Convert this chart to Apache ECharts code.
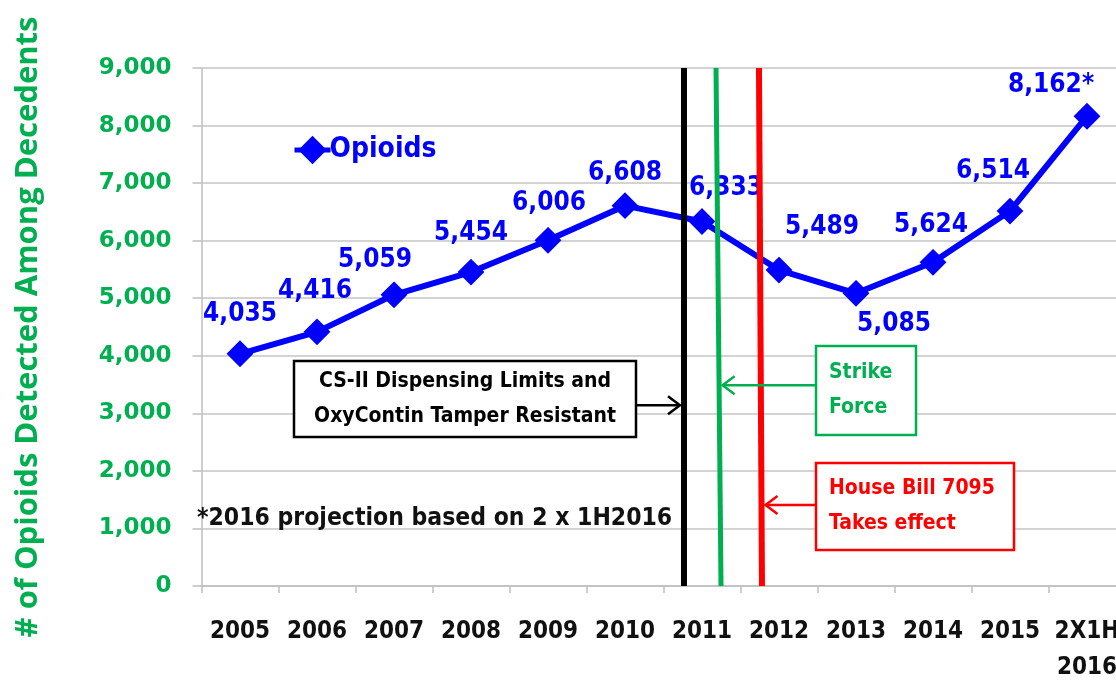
<!DOCTYPE html>
<html>
<head>
<meta charset="utf-8">
<script src="https://cdn.jsdelivr.net/npm/echarts@6/dist/echarts.min.js"></script>
<style>
  html, body { margin: 0; padding: 0; background: #ffffff; }
  #chart { width: 1116px; height: 681px; }
</style>
</head>
<body>
<div id="chart"></div>
<script>
// ---- data ----
const categories = ['2005','2006','2007','2008','2009','2010','2011','2012','2013','2014','2015','2X1H\n2016'];
const opioids = [4035, 4416, 5059, 5454, 6006, 6608, 6333, 5489, 5085, 5624, 6514, 8162];
const valueLabels = ['4,035','4,416','5,059','5,454','6,006','6,608','6,333','5,489','5,085','5,624','6,514','8,162*'];
const seriesName = 'Opioids';
// policy event lines (position in category units, top and bottom)
const eventNames = ['CS-II Dispensing Limits and\nOxyContin Tamper Resistant', 'Strike\nForce', 'House Bill 7095\nTakes effect'];
const eventTop = [5.766, 6.182, 6.740];
const eventBottom = [5.766, 6.247, 6.779];
const eventArrowValue = [3142, 3490, 1406];
const footnote = '*2016 projection based on 2 x 1H2016';
const yAxisTitle = '# of Opioids Detected Among Decedents';

// ---- presentation ----
const GREEN = '#00b050', BLUE = '#0000ff', RED = '#ff0000', BLACK = '#000000';
const eventColors = [BLACK, GREEN, RED];
const eventWidths = [6, 5, 6];
const labelOffsets = [[0,-40],[-2,-41],[-19,-35],[0,-39],[1,-37],[0,-32],[24,-33],[43,-43],[38,31],[-2,-37],[-17,-40],[-36,-31]];
const NARROW = "'DejaVu Sans Condensed', 'Liberation Sans Narrow', sans-serif";
const WIDE = "'DejaVu Sans', Verdana, sans-serif";

const chart = echarts.init(document.getElementById('chart'), null, { renderer: 'canvas' });

const lineSeries = eventNames.map((n, i) => ({
  type: 'line',
  xAxisIndex: 1,
  yAxisIndex: 0,
  z: 5,
  symbol: 'none',
  silent: true,
  lineStyle: { color: eventColors[i], width: eventWidths[i] },
  data: [[eventTop[i], 9000], [eventBottom[i], 0]]
}));

const option = {
  animation: false,
  backgroundColor: '#ffffff',
  grid: { left: 201.5, top: 68, width: 924, bottom: 95, containLabel: false, outerBoundsMode: 'none' },
  legend: {
    data: [seriesName],
    left: 287, top: 131,
    itemWidth: 36, itemHeight: 32,
    itemGap: 2,
    lineStyle: { width: 5 },
    textStyle: { color: BLUE, fontWeight: 'bold', fontSize: 28, fontFamily: NARROW, padding: [0,0,0,-6] }
  },
  xAxis: [{
    type: 'category',
    data: categories,
    boundaryGap: true,
    axisLine: { show: true, lineStyle: { color: '#bfbfbf', width: 1.5 } },
    axisTick: { show: true, interval: 0, alignWithLabel: false, length: 7, lineStyle: { color: '#bfbfbf', width: 1.5 } },
    axisLabel: { interval: 0, color: '#111', fontWeight: 'bold', fontSize: 24, fontFamily: NARROW, margin: 28, lineHeight: 36 },
    splitLine: { show: false }
  }, {
    type: 'value', min: -0.5, max: 11.5, show: false
  }],
  yAxis: [{
    type: 'value',
    min: 0, max: 9000, interval: 1000,
    name: yAxisTitle,
    nameLocation: 'middle',
    nameGap: 158,
    nameRotate: 90,
    nameTextStyle: { color: GREEN, fontWeight: 'bold', fontSize: 31, fontFamily: "'Open Sans', 'DejaVu Sans', sans-serif" },
    axisLine: { show: true, onZero: false, lineStyle: { color: '#bfbfbf', width: 1.5 } },
    axisTick: { show: true, length: 9, lineStyle: { color: '#bfbfbf', width: 1.5 } },
    axisLabel: {
      color: GREEN, fontWeight: 'bold', fontSize: 23, fontFamily: WIDE, margin: 30,
      formatter: v => v.toLocaleString('en-US')
    },
    splitLine: { show: true, lineStyle: { color: '#c4c4c4', width: 1.5 } }
  }],
  series: [{
    name: seriesName,
    type: 'line',
    z: 3,
    data: opioids.map((v, i) => ({
      value: v,
      label: { offset: labelOffsets[i], formatter: valueLabels[i] }
    })),
    symbol: 'diamond',
    symbolSize: 24,
    lineStyle: { color: BLUE, width: 6 },
    itemStyle: { color: BLUE, borderColor: BLUE, borderWidth: 2 },
    label: {
      show: true, position: 'inside',
      color: BLUE, fontWeight: 'bold', fontSize: 26, fontFamily: NARROW
    }
  }].concat(lineSeries)
};
chart.setOption(option);

// ---- annotations (boxes, arrows, footnote) ----
function px(cat, val) { return chart.convertToPixel({ xAxisIndex: 1, yAxisIndex: 0 }, [cat, val]); }
function xAt(i, val) { // x of slanted line at given value
  const t = val / 9000;
  return eventBottom[i] + (eventTop[i] - eventBottom[i]) * t;
}
const boxes = [
  { x: 294, y: 361, w: 342, h: 76, side: 'right' },
  { x: 816, y: 346, w: 100, h: 89, side: 'left' },
  { x: 816, y: 463, w: 198, h: 87, side: 'left' }
];
const graphics = [];
boxes.forEach((b, i) => {
  const c = eventColors[i];
  graphics.push({ type: 'rect', z: 10, shape: { x: b.x, y: b.y, width: b.w, height: b.h },
    style: { fill: '#ffffff', stroke: c, lineWidth: 2.5 } });
  graphics.push({ type: 'text', z: 11,
    x: i === 0 ? b.x + b.w / 2 : b.x + 13, y: b.y + b.h / 2,
    style: { text: eventNames[i], fill: c, font: "bold 21px " + NARROW,
      align: i === 0 ? 'center' : 'left', verticalAlign: 'middle', lineHeight: 35 } });
  const v = eventArrowValue[i];
  const p = px(xAt(i, v), v);
  const lineHalf = eventWidths[i] / 2;
  let x0, x1;
  if (b.side === 'right') { x0 = b.x + b.w; x1 = p[0] - lineHalf - 1; }
  else { x0 = b.x; x1 = p[0] + lineHalf + 1; }
  const y = p[1];
  const dir = x1 > x0 ? 1 : -1;
  graphics.push({ type: 'polyline', z: 10, shape: { points: [[x0, y], [x1, y]] },
    style: { stroke: c, lineWidth: 2.5, fill: null } });
  graphics.push({ type: 'polyline', z: 10, shape: { points: [[x1 - dir * 12, y - 9], [x1, y], [x1 - dir * 12, y + 9]] },
    style: { stroke: c, lineWidth: 2.5, fill: null } });
});
graphics.push({ type: 'text', z: 11, x: 197, y: 519,
  style: { text: footnote, fill: '#111', font: "bold 24.5px " + NARROW, align: 'left', verticalAlign: 'middle' } });
chart.setOption({ graphic: graphics });
</script>
</body>
</html>
